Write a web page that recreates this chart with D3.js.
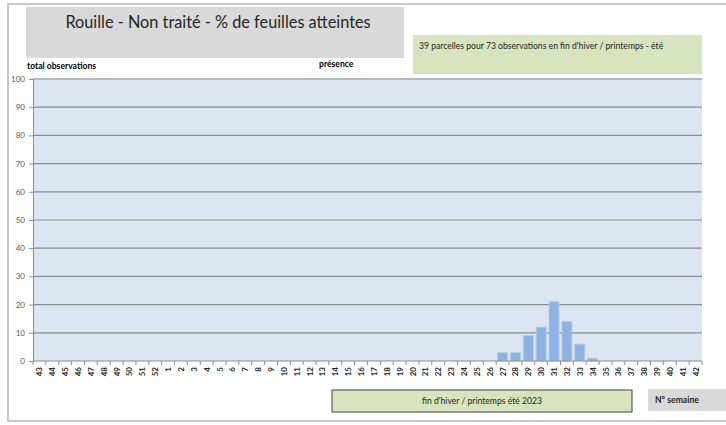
<html>
<head>
<meta charset="utf-8">
<script src="https://d3js.org/d3.v7.min.js"></script>
<style>
  body { margin: 0; background: #fff; }
  text { font-family: Lato, "Open Sans", sans-serif; }
</style>
</head>
<body>
<svg width="726" height="425"></svg>
<script>
// weeks (N° semaine) from week 43 to week 42 of the next year
var weeks = ["43","44","45","46","47","48","49","50","51","52",
  "1","2","3","4","5","6","7","8","9","10","11","12","13","14","15","16","17",
  "18","19","20","21","22","23","24","25","26","27","28","29","30","31","32",
  "33","34","35","36","37","38","39","40","41","42"];
// % de feuilles atteintes
var values = [0,0,0,0,0,0,0,0,0,0,
  0,0,0,0,0,0,0,0,0,0,0,0,0,0,0,0,0,
  0,0,0,0,0,0,0,0,0,3,3,9,12,21,14,
  6,1,0,0,0,0,0,0,0,0];
var yTicks = [0,10,20,30,40,50,60,70,80,90,100];

var title = "Rouille - Non traité - % de feuilles atteintes";
var note = "39 parcelles pour 73 observations en fin d'hiver / printemps - été";
var period = "fin d'hiver / printemps été 2023";

var svg = d3.select("svg");

// outer frame
svg.append("path")
   .attr("d", "M730,4 H8 V421 H730")
   .attr("fill", "none")
   .attr("stroke", "#c8c8c8")
   .attr("stroke-width", 2);

var plot = {left: 33, right: 702, top: 79, bottom: 361};

var x = d3.scaleBand()
   .domain(weeks)
   .range([plot.left, plot.right])
   .paddingInner(0.22)
   .paddingOuter(0.11);

var y = d3.scaleLinear()
   .domain([0, 100])
   .range([plot.bottom, plot.top]);

// plot background
svg.append("rect")
   .attr("x", plot.left).attr("y", plot.top - 1)
   .attr("width", plot.right - plot.left)
   .attr("height", plot.bottom - plot.top + 1)
   .attr("fill", "#dce6f2");

// gridlines
svg.append("g")
   .selectAll("line")
   .data(yTicks.slice(1))
   .enter()
   .append("line")
     .attr("x1", plot.left).attr("x2", plot.right)
     .attr("y1", function(d) { return y(d); })
     .attr("y2", function(d) { return y(d); })
     .attr("stroke", "#8c8c8c")
     .attr("stroke-width", 1.2);

// bars
svg.append("g")
   .selectAll("rect")
   .data(weeks.map(function(w, i) { return {week: w, value: values[i]}; })
              .filter(function(d) { return d.value > 0; }))
   .enter()
   .append("rect")
     .attr("x", function(d) { return x(d.week); })
     .attr("y", function(d) { return y(d.value); })
     .attr("width", x.bandwidth())
     .attr("height", function(d) { return y(0) - y(d.value); })
     .attr("fill", "#8db3e2")
     .attr("stroke", "#b3cbe9")
     .attr("stroke-width", 0.8);

// y axis
var yAxis = svg.append("g")
   .attr("transform", "translate(" + plot.left + ",0)")
   .call(d3.axisLeft(y).tickValues(yTicks).tickSize(4).tickPadding(4));
yAxis.select(".domain").attr("stroke", "#8c8c8c");
yAxis.selectAll(".tick line").attr("stroke", "#8c8c8c");
yAxis.selectAll("text")
   .attr("fill", "#595959")
   .style("font-size", "8px");

// x axis (ticks between categories)
var xAxis = svg.append("g")
   .attr("transform", "translate(0," + plot.bottom + ")");
xAxis.append("line")
   .attr("x1", plot.left).attr("x2", plot.right)
   .attr("stroke", "#8c8c8c").attr("stroke-width", 1);
xAxis.selectAll("line.tk")
   .data(weeks.concat(["end"]))
   .enter()
   .append("line")
     .attr("class", "tk")
     .attr("x1", function(d, i) { return plot.left + i * x.step(); })
     .attr("x2", function(d, i) { return plot.left + i * x.step(); })
     .attr("y1", 0).attr("y2", 4)
     .attr("stroke", "#8c8c8c");
xAxis.selectAll("text")
   .data(weeks)
   .enter()
   .append("text")
     .attr("transform", function(d) {
        return "translate(" + (x(d) + x.bandwidth() / 2 + 3) + ",6) rotate(-90)";
     })
     .attr("text-anchor", "end")
     .attr("fill", "#262626")
     .style("font-size", "8px")
     .style("font-weight", "bold")
     .text(function(d) { return d; });

// title box
svg.append("rect")
   .attr("x", 26).attr("y", 7).attr("width", 378).attr("height", 51)
   .attr("fill", "#d9d9d9");
svg.append("text")
   .attr("x", 218).attr("y", 28)
   .attr("text-anchor", "middle")
   .attr("fill", "#262626")
   .style("font-size", "16.3px")
   .text(title);

// note box
svg.append("rect")
   .attr("x", 413).attr("y", 35).attr("width", 289).attr("height", 39)
   .attr("fill", "#d7e4bd");
svg.append("text")
   .attr("x", 419).attr("y", 49)
   .attr("fill", "#262626")
   .style("font-size", "8.6px")
   .text(note);

svg.append("text")
   .attr("x", 27).attr("y", 69)
   .attr("fill", "#000")
   .style("font-size", "8.6px")
   .style("font-weight", "bold")
   .text("total observations");

svg.append("text")
   .attr("x", 319).attr("y", 67)
   .attr("fill", "#000")
   .style("font-size", "8.6px")
   .style("font-weight", "bold")
   .text("présence");

// period box
svg.append("rect")
   .attr("x", 332).attr("y", 390).attr("width", 300).attr("height", 22)
   .attr("fill", "#d7e4bd")
   .attr("stroke", "#404040")
   .attr("stroke-width", 1);
svg.append("text")
   .attr("x", 482).attr("y", 404)
   .attr("text-anchor", "middle")
   .attr("fill", "#262626")
   .style("font-size", "8.6px")
   .text(period);

// axis title box
svg.append("rect")
   .attr("x", 648).attr("y", 389).attr("width", 80).attr("height", 22)
   .attr("fill", "#d9d9d9");
svg.append("text")
   .attr("x", 655).attr("y", 403)
   .attr("fill", "#262626")
   .style("font-size", "8.6px")
   .style("font-weight", "bold")
   .text("N° semaine");
</script>
</body>
</html>
